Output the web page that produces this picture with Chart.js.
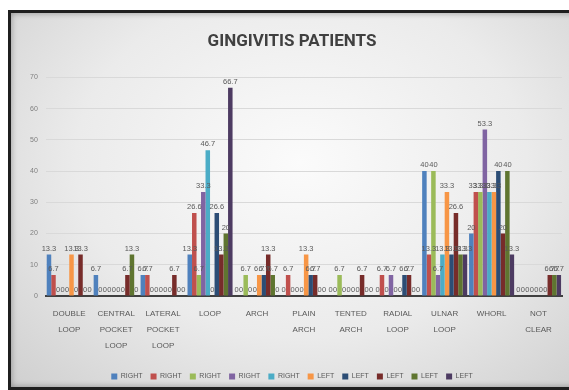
<!DOCTYPE html>
<html>
<head>
<meta charset="utf-8">
<title>Gingivitis patients</title>
<script src="https://cdn.jsdelivr.net/npm/chart.js@4.4.0/dist/chart.umd.min.js"></script>
<style>
  html, body { margin: 0; padding: 0; background: #fff; overflow: hidden; }
  #frame {
    position: absolute; left: 8px; top: 10px; width: 580px; height: 374px;
    border: 3px solid #1f1f1f;
    background: radial-gradient(ellipse at 50% 40%, #fbfbfb 0%, #ebebeb 55%, #cfcfcf 100%);
    box-shadow: inset 0 0 6px rgba(0,0,0,0.35);
  }
  #myChart { position: absolute; left: 0; top: 0; }
</style>
</head>
<body>
<div id="frame"></div>
<canvas id="myChart" width="569" height="390"></canvas>
<script>
const categories = [
  ["DOUBLE", "LOOP"],
  ["CENTRAL", "POCKET", "LOOP"],
  ["LATERAL", "POCKET", "LOOP"],
  ["LOOP"],
  ["ARCH"],
  ["PLAIN", "ARCH"],
  ["TENTED", "ARCH"],
  ["RADIAL", "LOOP"],
  ["ULNAR", "LOOP"],
  ["WHORL"],
  ["NOT", "CLEAR"],
];

// right hand (5 series) then left hand (5 series)
const right1 = [13.3, 6.7, 6.7, 13.3, 0, 0, 0, 0, 40, 20, 0];
const right2 = [6.7, 0, 6.7, 26.6, 0, 6.7, 0, 6.7, 13.3, 33.3, 0];
const right3 = [0, 0, 0, 6.7, 6.7, 0, 6.7, 0, 40, 33.3, 0];
const right4 = [0, 0, 0, 33.3, 0, 0, 0, 6.7, 6.7, 53.3, 0];
const right5 = [0, 0, 0, 46.7, 0, 0, 0, 0, 13.3, 33.3, 0];
const left1 = [13.3, 0, 0, 0, 6.7, 13.3, 0, 0, 33.3, 33.3, 0];
const left2 = [0, 0, 0, 26.6, 6.7, 6.7, 0, 6.7, 13.3, 40, 0];
const left3 = [13.3, 6.7, 6.7, 13.3, 13.3, 6.7, 6.7, 6.7, 26.6, 20, 6.7];
const left4 = [0, 13.3, 0, 20, 6.7, 0, 0, 0, 13.3, 40, 6.7];
const left5 = [0, 0, 0, 66.7, 0, 0, 0, 0, 13.3, 13.3, 6.7];

const seriesNames = ["RIGHT", "RIGHT", "RIGHT", "RIGHT", "RIGHT", "LEFT", "LEFT", "LEFT", "LEFT", "LEFT"];
const seriesData = [right1, right2, right3, right4, right5, left1, left2, left3, left4, left5];
const colors = ["#4F81BD", "#C0504D", "#9BBB59", "#8064A2", "#4BACC6", "#F79646", "#2C4D75", "#772C2A", "#5F7530", "#4D3B62"];

// value labels on top of every bar (zeros too, like the excel chart)
const valueLabels = {
  id: "valueLabels",
  afterDatasetsDraw(chart) {
    const ctx = chart.ctx;
    ctx.save();
    ctx.font = '7.5px "Liberation Sans"';
    ctx.fillStyle = "#595959";
    ctx.textAlign = "center";
    ctx.textBaseline = "bottom";
    chart.data.datasets.forEach((ds, i) => {
      chart.getDatasetMeta(i).data.forEach((bar, j) => {
        ctx.fillText(String(ds.data[j]), bar.x, bar.y - 2);
      });
    });
    ctx.restore();
  },
};

new Chart(document.getElementById("myChart"), {
  type: "bar",
  data: {
    labels: categories,
    datasets: seriesData.map((d, i) => ({
      label: seriesNames[i],
      data: d,
      backgroundColor: colors[i],
      borderWidth: 0,
      categoryPercentage: 0.96,
      barPercentage: 1.0,
    })),
  },
  options: {
    responsive: false,
    animation: false,
    devicePixelRatio: 1,
    layout: { padding: { left: 22, right: 7, top: 22, bottom: 0 } },
    plugins: {
      title: {
        display: true,
        text: "GINGIVITIS PATIENTS",
        color: "#404040",
        font: { family: "Roboto", size: 17, weight: "bold" },
        padding: { top: 10, bottom: 25 },
      },
      legend: {
        position: "bottom",
        labels: {
          boxWidth: 6,
          boxHeight: 6,
          padding: 8,
          color: "#595959",
          font: { family: "Liberation Sans", size: 7 },
        },
      },
      tooltip: { enabled: false },
    },
    scales: {
      x: {
        grid: { display: false },
        border: { display: true, color: "#404040", width: 2 },
        ticks: {
          autoSkip: false,
          maxRotation: 0,
          padding: 2,
          color: "#595959",
          font: { family: "Liberation Sans", size: 8, lineHeight: 2 },
        },
        // leave some room between the category labels and the legend
        afterFit(scale) {
          scale.height += 9;
        },
      },
      y: {
        min: 0,
        max: 70,
        grid: { color: "#d9d9d9", drawTicks: false },
        border: { display: false },
        ticks: {
          stepSize: 10,
          padding: 8,
          color: "#7f7f7f",
          font: { family: "Liberation Sans", size: 7 },
        },
      },
    },
  },
  plugins: [valueLabels],
});
</script>
</body>
</html>
